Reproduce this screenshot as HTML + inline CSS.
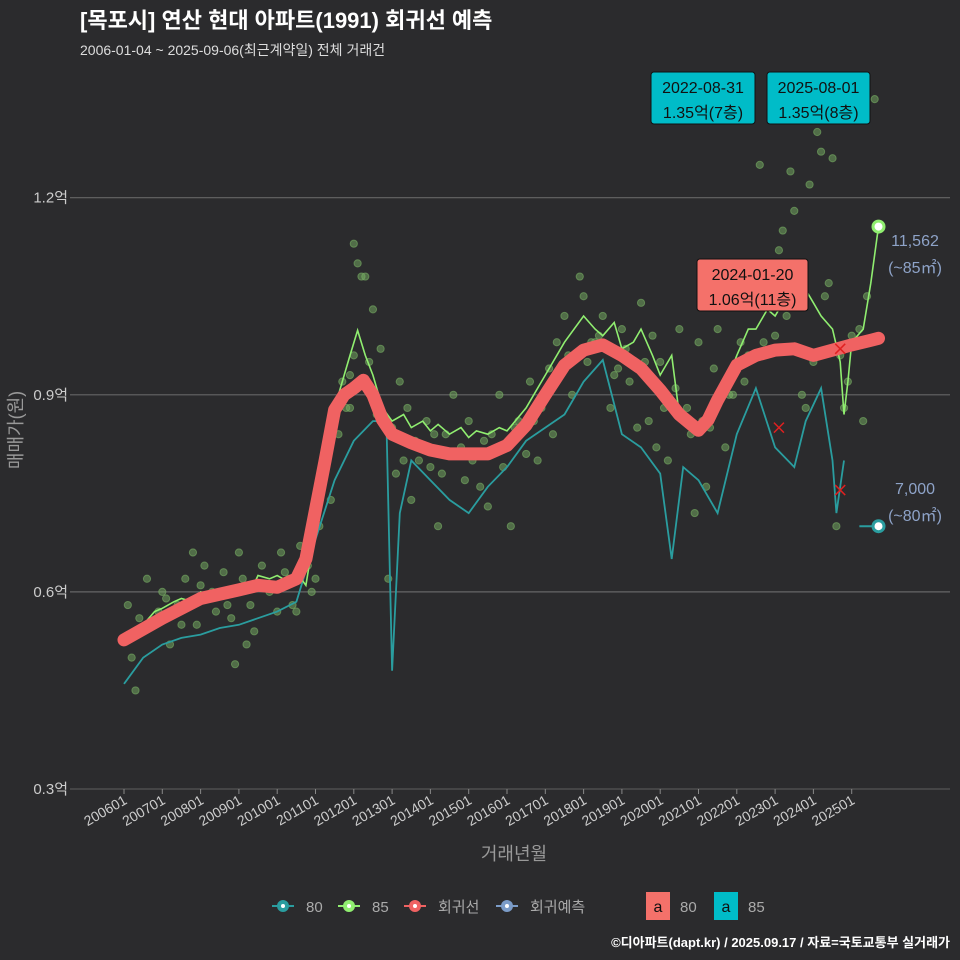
<!DOCTYPE html>
<html><head><meta charset="utf-8">
<style>
html,body{margin:0;padding:0;background:#2b2b2d;}
svg{display:block;font-family:"Liberation Sans","Noto Sans CJK KR",sans-serif;}
</style></head>
<body>
<svg id="chart" width="960" height="960" viewBox="0 0 960 960" xmlns="http://www.w3.org/2000/svg">
<rect width="960" height="960" fill="#2b2b2d"/>
<text x="80" y="28" fill="#ffffff" font-size="22" font-weight="bold">[목포시] 연산 현대 아파트(1991) 회귀선 예측</text>
<text x="80" y="55" fill="#dddddd" font-size="14">2006-01-04 ~ 2025-09-06(최근계약일) 전체 거래건</text>
<g id="grid"></g>
<g id="pts"></g>
<g id="lines"></g>
<g id="ann"></g>
<text x="22" y="430" fill="#999" font-size="18" transform="rotate(-90 22 430)" text-anchor="middle">매매가(원)</text>
<text x="514" y="860" fill="#999" font-size="18" text-anchor="middle">거래년월</text>
<g id="legend"></g>
<text x="950" y="947" fill="#ffffff" font-size="13" font-weight="bold" text-anchor="end">©디아파트(dapt.kr) / 2025.09.17 / 자료=국토교통부 실거래가</text>
</svg>
<script>
const yTicks=[0.3,0.6,0.9,1.2];
const yTickLabels=["0.3억","0.6억","0.9억","1.2억"];
const xTicks=[2006,2007,2008,2009,2010,2011,2012,2013,2014,2015,2016,2017,2018,2019,2020,2021,2022,2023,2024,2025];
const xTickLabels=["200601","200701","200801","200901","201001","201101","201201","201301","201401","201501","201601","201701","201801","201901","202001","202101","202201","202301","202401","202501"];
const regX=[2006,2007,2008,2009,2009.5,2010,2010.5,2010.75,2011,2011.25,2011.5,2011.75,2012,2012.25,2012.5,2012.75,2013,2013.5,2014,2014.5,2015,2015.5,2016,2016.5,2017,2017.5,2018,2018.5,2019,2019.5,2020,2020.5,2021,2021.25,2021.5,2022,2022.5,2023,2023.5,2024,2024.5,2025,2025.5,2025.7];
const regV=[0.527,0.56,0.59,0.603,0.61,0.607,0.62,0.65,0.725,0.80,0.877,0.90,0.91,0.922,0.90,0.862,0.84,0.827,0.816,0.81,0.81,0.81,0.823,0.854,0.90,0.945,0.968,0.976,0.96,0.94,0.907,0.87,0.846,0.862,0.892,0.945,0.96,0.968,0.97,0.96,0.968,0.976,0.983,0.986];
const s85X=[2006,2006.3,2006.5,2006.8,2007,2007.3,2007.5,2007.8,2008,2008.3,2008.5,2008.8,2009,2009.3,2009.5,2009.8,2010,2010.3,2010.5,2010.75,2011,2011.25,2011.5,2011.75,2011.9,2012.1,2012.3,2012.5,2012.75,2013,2013.3,2013.5,2013.8,2014,2014.2,2014.5,2014.8,2015,2015.2,2015.5,2015.8,2016,2016.5,2017,2017.5,2018,2018.3,2018.5,2018.8,2019,2019.3,2019.5,2019.8,2020,2020.3,2020.5,2021,2021.3,2021.5,2021.8,2022,2022.3,2022.5,2022.8,2023,2023.3,2023.5,2023.8,2024,2024.2,2024.5,2024.7,2024.8,2024.9,2025,2025.3,2025.5,2025.7];
const s85V=[0.53,0.535,0.55,0.57,0.575,0.585,0.59,0.585,0.60,0.595,0.605,0.60,0.61,0.60,0.625,0.62,0.625,0.615,0.63,0.61,0.70,0.80,0.88,0.93,0.96,0.998,0.96,0.93,0.88,0.86,0.87,0.85,0.86,0.845,0.855,0.84,0.85,0.835,0.845,0.84,0.85,0.845,0.88,0.93,0.98,1.02,1.0,0.99,1.01,0.97,0.98,1.00,0.96,0.93,0.96,0.87,0.84,0.86,0.90,0.93,0.96,1.0,1.0,1.03,1.02,1.05,1.04,1.06,1.04,1.02,1.0,0.95,0.87,0.92,0.98,1.0,1.07,1.156];
const s80X=[2006,2006.5,2007,2007.5,2008,2008.5,2009,2009.5,2010,2010.5,2011,2011.5,2012,2012.5,2012.85,2013.0,2013.2,2013.5,2014,2014.5,2015,2015.5,2016,2016.5,2017,2017.5,2018,2018.5,2019,2019.5,2020,2020.3,2020.6,2021,2021.5,2022,2022.5,2023,2023.5,2023.8,2024.2,2024.5,2024.6,2024.8];
const s80V=[0.46,0.50,0.52,0.53,0.535,0.545,0.55,0.56,0.57,0.585,0.68,0.77,0.83,0.86,0.86,0.48,0.72,0.80,0.77,0.74,0.72,0.76,0.79,0.83,0.85,0.87,0.92,0.953,0.84,0.82,0.78,0.65,0.79,0.77,0.72,0.84,0.91,0.82,0.79,0.86,0.91,0.80,0.72,0.80];
const ptX=[2006.1,2006.2,2006.4,2006.6,2006.8,2007.0,2007.2,2007.4,2007.6,2007.9,2008.1,2008.3,2008.6,2008.8,2009.1,2009.3,2009.6,2009.8,2010.1,2010.3,2010.6,2010.9,2011.1,2011.3,2011.5,2011.7,2011.9,2012.0,2012.1,2012.3,2012.5,2012.7,2013.0,2013.2,2013.4,2013.7,2013.9,2014.1,2014.3,2014.6,2014.8,2015.0,2015.3,2015.6,2015.8,2016.0,2016.3,2016.6,2016.8,2017.1,2017.3,2017.5,2017.7,2018.0,2018.2,2018.5,2018.7,2019.0,2019.2,2019.5,2019.7,2020.0,2020.2,2020.5,2020.7,2021.0,2021.2,2021.5,2021.7,2022.0,2022.2,2022.5,2022.7,2022.9,2023.1,2023.3,2023.5,2023.7,2023.9,2024.1,2024.3,2024.5,2024.7,2024.9,2025.2,2025.4,2025.6,2006.3,2007.8,2008.9,2010.4,2011.8,2012.2,2012.9,2014.2,2015.5,2017.9,2019.4,2020.9,2022.6,2023.8,2024.2,2025.3,2012.0,2011.9,2013.5,2016.1,2018.3,2021.3,2022.3,2023.4,2024.6,2021.9,2019.9,
2006.5,2006.9,2007.1,2007.5,2008.0,2008.4,2008.7,2009.0,2009.4,2009.9,2010.2,2010.5,2010.8,2011.0,2011.4,2011.6,2012.4,2012.6,2013.3,2013.6,2014.0,2014.4,2014.7,2015.1,2015.4,2015.9,2016.2,2016.5,2016.9,2017.2,2017.6,2018.1,2018.4,2018.8,2019.1,2019.6,2019.8,2020.1,2020.4,2020.8,2021.1,2021.4,2021.8,2022.1,2022.4,2022.8,2023.0,2023.2,2023.6,2024.0,2024.4,2024.8,2025.0,2025.5,2010.0,2009.2,2013.1,2014.9,2016.7,2018.9];
const ptV=[0.58,0.50,0.56,0.62,0.55,0.60,0.52,0.58,0.62,0.55,0.64,0.60,0.63,0.56,0.62,0.58,0.64,0.60,0.66,0.62,0.67,0.60,0.70,0.80,0.86,0.92,0.88,0.96,1.10,1.08,1.03,0.97,0.85,0.92,0.88,0.80,0.86,0.84,0.78,0.90,0.82,0.86,0.76,0.84,0.90,0.82,0.86,0.92,0.80,0.94,0.98,1.02,0.90,1.05,0.98,1.02,0.88,1.00,0.92,1.04,0.86,0.95,0.80,1.00,0.88,0.98,0.76,1.00,0.82,1.04,0.92,1.10,0.98,1.35,1.12,1.02,1.18,0.90,1.22,1.30,1.05,1.26,0.96,0.92,1.00,1.05,1.35,0.45,0.66,0.49,0.58,0.88,1.08,0.62,0.70,0.73,1.08,0.85,0.72,1.25,0.88,1.27,0.86,1.13,0.93,0.74,0.70,0.98,0.85,0.96,1.24,0.70,0.90,0.82,
0.54,0.57,0.59,0.55,0.61,0.57,0.58,0.66,0.54,0.61,0.63,0.57,0.64,0.62,0.74,0.84,0.95,0.87,0.80,0.83,0.79,0.84,0.81,0.80,0.83,0.79,0.85,0.81,0.88,0.84,0.96,0.95,0.99,0.93,0.97,0.95,0.99,0.88,0.91,0.84,0.86,0.94,0.90,0.98,0.96,1.04,0.99,1.15,1.09,0.95,1.07,0.88,0.99,0.98,0.57,0.52,0.78,0.77,0.86,0.94];
const crossX=[2023.1,2024.7,2024.7];
const crossV=[0.85,0.755,0.97];

const NS="http://www.w3.org/2000/svg";
const X0=124,XS=38.3,Y0=789,YS=657;
function sx(t){return X0+(t-2006)*XS;}
function sy(v){return Y0-(v-0.3)*YS;}
function mk(tag,attrs,parent){const e=document.createElementNS(NS,tag);for(const k in attrs)e.setAttribute(k,attrs[k]);parent.appendChild(e);return e;}
const grid=document.getElementById('grid');
yTicks.forEach((v,i)=>{
  const l=mk('line',{x1:70,x2:950,y1:sy(v),y2:sy(v),stroke:i===0?'#555':'#666','stroke-width':1.2},grid);
  
  
  const t=mk('text',{x:68,y:sy(v)+5,fill:'#ccc','font-size':15,'text-anchor':'end'},grid);
  t.textContent=yTickLabels[i];
  
  
});
xTicks.forEach((t,i)=>{
  const x=sx(t);
  const k=mk('line',{x1:x,x2:x,y1:789,y2:794,stroke:'#888'},grid);
  
  
  const tx=mk('text',{x:x+4,y:803,fill:'#ccc','font-size':14,'text-anchor':'end',transform:`rotate(-30 ${x+4} 803)`},grid);
  tx.textContent=xTickLabels[i];
  
  
});
const pts=document.getElementById('pts');
ptX.forEach((t,i)=>{
  const c=mk('circle',{cx:sx(t),cy:sy(ptV[i]),r:3.6,fill:'rgba(120,175,100,0.5)',stroke:'rgba(120,175,100,0.6)','stroke-width':1},pts);
  
  
});
const lines=document.getElementById('lines');
function path(xs,vs){return xs.map((t,i)=>(i?'L':'M')+sx(t).toFixed(1)+','+sy(vs[i]).toFixed(1)).join('');}
const p80=mk('path',{d:path(s80X,s80V),fill:'none',stroke:'#2a9d9f','stroke-width':1.8},lines);


const p85=mk('path',{d:path(s85X,s85V),fill:'none',stroke:'#90ee70','stroke-width':1.6},lines);


const pr=mk('path',{d:path(regX,regV),fill:'none',stroke:'#f06262','stroke-width':13,'stroke-linecap':'round','stroke-linejoin':'round'},lines);


crossX.forEach((t,i)=>{
  const x=sx(t),y=sy(crossV[i]);
  const g=mk('path',{d:`M${x-5},${y-5}L${x+5},${y+5}M${x-5},${y+5}L${x+5},${y-5}`,stroke:'#e02020','stroke-width':1.5},lines);
  
  
});
const e85=mk('circle',{cx:sx(s85X[s85X.length-1]),cy:sy(s85V[s85V.length-1]),r:5.5,fill:'#fff',stroke:'#90ee70','stroke-width':3},lines);


const e80l=mk('line',{x1:sx(2025.2),x2:sx(2025.7),y1:sy(0.70),y2:sy(0.70),stroke:'#2a9d9f','stroke-width':2},lines);


const e80=mk('circle',{cx:sx(2025.7),cy:sy(0.70),r:5.5,fill:'#fff',stroke:'#2a9d9f','stroke-width':3},lines);



const ann=document.getElementById('ann');
function box(x,y,w,h,fill,l1,l2,name){
  const g=mk('g',{},ann);
  
  
  mk('rect',{x:x,y:y,width:w,height:h,rx:3,fill:fill,stroke:'#111','stroke-width':1},g);
  const t1=mk('text',{x:x+w/2,y:y+21,'text-anchor':'middle','font-size':16,fill:'#111'},g);t1.textContent=l1;
  const t2=mk('text',{x:x+w/2,y:y+46,'text-anchor':'middle','font-size':16,fill:'#111'},g);t2.textContent=l2;
}
box(651,72,104,52,'#00bcc8','2022-08-31','1.35억(7층)','max-label-80');
box(767,72,103,52,'#00bcc8','2025-08-01','1.35억(8층)','max-label-85');
box(697,259,111,52,'#f4716a','2024-01-20','1.06억(11층)','recent-label');
function lbl(x,y,s,name){const t=mk('text',{x:x,y:y,'font-size':16,fill:'#8ea3c8','text-anchor':'middle'},ann);t.textContent=s;}
lbl(915,246,'11,562','price-label-85');lbl(915,273,'(~85㎡)','area-label-85');
lbl(915,494,'7,000','price-label-80');lbl(915,521,'(~80㎡)','area-label-80');
const lg=document.getElementById('legend');
const items=[['80','#2a9d9f',272],['85','#90ee70',338],['회귀선','#f06262',404],['회귀예측','#7b9cc8',496]];
items.forEach(([s,c,x])=>{
  const g=mk('g',{},lg);
  
  
  mk('line',{x1:x,x2:x+22,y1:906,y2:906,stroke:c,'stroke-width':2},g);
  mk('circle',{cx:x+11,cy:906,r:6,fill:c},g);
  mk('circle',{cx:x+11,cy:906,r:2,fill:'#fff'},g);
  const t=mk('text',{x:x+34,y:912,fill:'#aaa','font-size':15},g);t.textContent=s;
});
[['80','#f4716a',646],['85','#00bcc8',714]].forEach(([s,c,x])=>{
  const g=mk('g',{},lg);
  
  
  mk('rect',{x:x,y:892,width:24,height:28,fill:c},g);
  const a=mk('text',{x:x+12,y:912,'text-anchor':'middle','font-size':16,fill:'#111'},g);a.textContent='a';
  const t=mk('text',{x:x+34,y:912,fill:'#aaa','font-size':15},g);t.textContent=s;
});
</script>
</body></html>
